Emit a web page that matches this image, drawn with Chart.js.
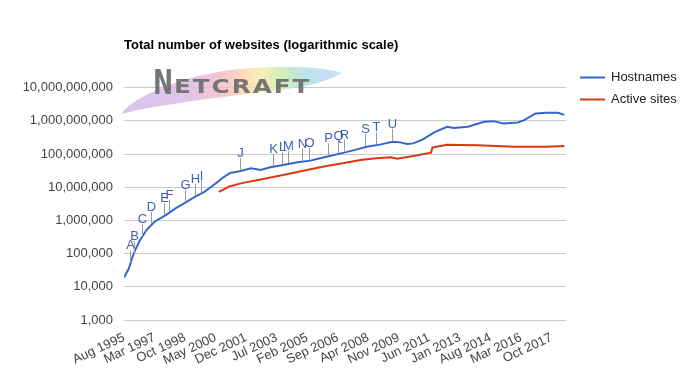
<!DOCTYPE html>
<html>
<head>
<meta charset="utf-8">
<script src="https://cdn.jsdelivr.net/npm/chart.js@4.4.1/dist/chart.umd.min.js"></script>
<style>
  html, body { margin: 0; padding: 0; background: #fff; }
  #wrap { width: 700px; height: 371px; }
</style>
</head>
<body>
<div id="wrap"><canvas id="c" width="700" height="371"></canvas></div>
<script>
// ---- data (months counted from Aug 1995) ----
const xTickMonths = [0, 19, 38, 57, 76, 95, 114, 133, 152, 171, 190, 209, 228, 247, 266];
const xTickLabels = ['Aug 1995', 'Mar 1997', 'Oct 1998', 'May 2000', 'Dec 2001', 'Jul 2003', 'Feb 2005',
  'Sep 2006', 'Apr 2008', 'Nov 2009', 'Jun 2011', 'Jan 2013', 'Aug 2014', 'Mar 2016', 'Oct 2017'];
const yTickValues = [1e3, 1e4, 1e5, 1e6, 1e7, 1e8, 1e9, 1e10];

const hostMonths = [0, 3, 5, 7, 10, 14, 19, 26, 32, 39, 44, 50, 57, 61, 66, 72, 79, 85, 91, 99, 108, 116,
  122, 128, 137, 145, 151, 160, 167, 172, 176, 180, 186, 193, 201, 205, 214, 224, 230, 236, 245, 249,
  256, 263, 270, 274];
const hostValues = [19000, 35500, 72400, 129000, 257000, 513000, 912000, 1450000, 2290000, 3630000,
  5130000, 7240000, 12900000, 18600000, 26900000, 30200000, 37200000, 33100000, 39800000, 46800000,
  56200000, 63100000, 74100000, 87100000, 110000000, 138000000, 166000000, 195000000, 234000000,
  224000000, 200000000, 209000000, 275000000, 447000000, 661000000, 603000000, 661000000, 933000000,
  977000000, 832000000, 891000000, 1050000000, 1660000000, 1740000000, 1740000000, 1510000000];

const activeMonths = [59, 66, 74, 85, 95, 105, 116, 126, 137, 147, 157, 166, 170, 180, 191, 192, 201,
  220, 243, 263, 274];
const activeValues = [7240000, 10700000, 13500000, 17000000, 21400000, 26900000, 34700000, 43700000,
  53700000, 66100000, 74100000, 79400000, 72400000, 87100000, 110000000, 158000000, 191000000,
  182000000, 166000000, 166000000, 174000000];

const annLetters = ['A','B','C','D','E','F','G','H','I','J','K','L','M','N','O','P','Q','R','S','T','U'];
const annMonths = [4, 6, 11, 17, 25, 28, 38, 44, 48, 72, 93, 98, 102, 111, 115, 127, 133, 137, 150, 157, 167];

const seriesNames = ['Hostnames', 'Active sites'];
const titleText = 'Total number of websites (logarithmic scale)';

const FONT = '"Liberation Sans", Arial, sans-serif';

function fmt(v) {
  return String(Math.round(v)).replace(/\B(?=(\d{3})+(?!\d))/g, ',');
}

function hostValueAt(m) {
  for (let i = 0; i < hostMonths.length - 1; i++) {
    if (m >= hostMonths[i] && m <= hostMonths[i + 1]) {
      const t = (m - hostMonths[i]) / (hostMonths[i + 1] - hostMonths[i]);
      const a = Math.log10(hostValues[i]), b = Math.log10(hostValues[i + 1]);
      return Math.pow(10, a + t * (b - a));
    }
  }
  return hostValues[hostValues.length - 1];
}

const logoPlugin = {
  id: 'logo',
  beforeDatasetsDraw(chart) {
    const ctx = chart.ctx;
    const L = chart.chartArea.left, T = chart.chartArea.top;
    ctx.save();
    // rainbow brush swoosh
    const g = ctx.createLinearGradient(L - 2, 0, L + 218, 0);
    g.addColorStop(0, '#cbb7e6');
    g.addColorStop(0.3, '#d8b4e2');
    g.addColorStop(0.45, '#f2b6c4');
    g.addColorStop(0.55, '#f9cfa8');
    g.addColorStop(0.63, '#f5eca0');
    g.addColorStop(0.73, '#c4eaa6');
    g.addColorStop(0.83, '#a8dbe8');
    g.addColorStop(1, '#bcd6f4');
    ctx.globalAlpha = 0.78;
    ctx.fillStyle = g;
    ctx.beginPath();
    ctx.moveTo(L - 2, T + 25.4);
    ctx.bezierCurveTo(L + 11, T + 7.4, L + 66, T - 15.6, L + 126, T - 19.6);
    ctx.bezierCurveTo(L + 166, T - 21.6, L + 201, T - 20.6, L + 218, T - 14.6);
    ctx.bezierCurveTo(L + 196, T - 1.6, L + 166, T + 1.4, L + 131, T + 5.4);
    ctx.bezierCurveTo(L + 76, T + 12.4, L + 26, T + 18.4, L - 2, T + 26.4);
    ctx.closePath();
    ctx.fill();
    // word mark
    ctx.globalAlpha = 0.95;
    ctx.fillStyle = '#6f6f6f';
    ctx.textBaseline = 'alphabetic';
    ctx.textAlign = 'left';
    ctx.save();
    ctx.translate(L + 29, T + 6);
    ctx.scale(1, 1.4);
    ctx.font = 'bold 24px "DejaVu Sans", sans-serif';
    ctx.fillText('N', 0, 0);
    ctx.restore();
    ctx.save();
    ctx.translate(L + 50, T + 5);
    ctx.scale(1.3, 1);
    ctx.font = 'bold 19px "DejaVu Sans", sans-serif';
    if ('letterSpacing' in ctx) ctx.letterSpacing = '1.5px';
    ctx.fillText('ETCRAFT', 0, 0);
    ctx.restore();
    ctx.restore();
  }
};

const annotationPlugin = {
  id: 'letters',
  afterDatasetsDraw(chart) {
    const ctx = chart.ctx;
    const xs = chart.scales.x, ys = chart.scales.y;
    ctx.save();
    ctx.font = '13px ' + FONT;
    ctx.textAlign = 'center';
    ctx.textBaseline = 'alphabetic';
    annMonths.forEach((m, i) => {
      const px = Math.round(xs.getPixelForValue(m)) + 0.5;
      const py = ys.getPixelForValue(hostValueAt(m));
      ctx.strokeStyle = '#999999';
      ctx.lineWidth = 1;
      ctx.beginPath();
      ctx.moveTo(px, py - 1);
      ctx.lineTo(px, py - 13);
      ctx.stroke();
      ctx.fillStyle = '#3f5fb5';
      ctx.fillText(annLetters[i], px, py - 14);
    });
    ctx.restore();
  }
};

const legendPlugin = {
  id: 'sideLegend',
  afterDraw(chart) {
    const ctx = chart.ctx;
    const x0 = chart.chartArea.right + 14;
    const y0 = chart.chartArea.top - 11;
    ctx.save();
    ctx.font = '13px ' + FONT;
    ctx.textAlign = 'left';
    ctx.textBaseline = 'middle';
    chart.data.datasets.forEach((ds, i) => {
      const y = Math.round(y0 + i * 22) + 0.5;
      ctx.strokeStyle = ds.borderColor;
      ctx.lineWidth = 2;
      ctx.beginPath();
      ctx.moveTo(x0, y);
      ctx.lineTo(x0 + 25, y);
      ctx.stroke();
      ctx.fillStyle = '#222222';
      ctx.fillText(ds.label, x0 + 31, y);
    });
    ctx.restore();
  }
};

new Chart(document.getElementById('c'), {
  type: 'line',
  data: {
    datasets: [
      {
        label: seriesNames[0],
        data: hostMonths.map((m, i) => ({ x: m, y: hostValues[i] })),
        borderColor: '#3366cc',
        backgroundColor: '#3366cc',
        borderWidth: 2,
        pointRadius: 0,
        tension: 0,
        fill: false
      },
      {
        label: seriesNames[1],
        data: activeMonths.map((m, i) => ({ x: m, y: activeValues[i] })),
        borderColor: '#dc3912',
        backgroundColor: '#dc3912',
        borderWidth: 2,
        pointRadius: 0,
        tension: 0,
        fill: false
      }
    ]
  },
  options: {
    responsive: false,
    animation: false,
    devicePixelRatio: 1,
    layout: { padding: { left: 14, right: 134, top: 0, bottom: 0 } },
    plugins: {
      legend: { display: false },
      tooltip: { enabled: false },
      title: {
        display: true,
        text: titleText,
        align: 'start',
        fullSize: false,
        color: '#000',
        font: { family: FONT, size: 13, weight: 'bold' },
        padding: { top: 38, bottom: 34 }
      }
    },
    scales: {
      x: {
        type: 'linear',
        min: 0,
        max: 275,
        grid: { display: false, drawTicks: false },
        border: { display: false },
        afterBuildTicks(axis) { axis.ticks = xTickMonths.map(v => ({ value: v })); },
        afterFit(axis) { axis.height = 51; },
        ticks: {
          autoSkip: false,
          minRotation: 25,
          maxRotation: 25,
          padding: 10,
          color: '#444',
          font: { family: FONT, size: 13 },
          callback(v) {
            const i = xTickMonths.indexOf(v);
            return i >= 0 ? xTickLabels[i] : '';
          }
        }
      },
      y: {
        type: 'logarithmic',
        min: 1e3,
        max: 1e10,
        grid: { color: '#cccccc', drawTicks: false },
        border: { display: false },
        afterBuildTicks(axis) { axis.ticks = yTickValues.map(v => ({ value: v })); },
        afterFit(axis) { axis.width = 110; },
        ticks: {
          padding: 11,
          color: '#444',
          font: { family: FONT, size: 13 },
          callback(v) { return fmt(v); }
        }
      }
    }
  },
  plugins: [logoPlugin, annotationPlugin, legendPlugin]
});
</script>
</body>
</html>
